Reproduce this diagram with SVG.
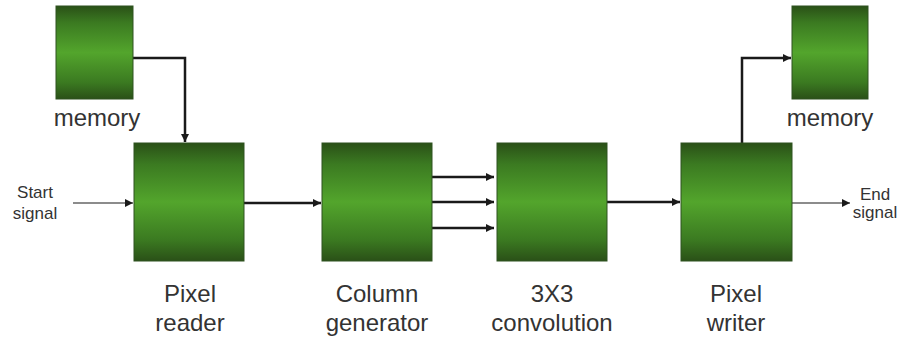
<svg xmlns="http://www.w3.org/2000/svg" width="903" height="341" viewBox="0 0 903 341">
<style>
.box{fill:url(#g);stroke:#2f5220;stroke-width:1}
.lbl{font-family:"Liberation Sans",Arial,sans-serif;font-size:24px;fill:#333;text-anchor:middle}
.sig{font-family:"Liberation Sans",Arial,sans-serif;font-size:17px;fill:#333;text-anchor:middle}
.thick{stroke:#1a1a1a;stroke-width:2.5;fill:none}
.thin{stroke:#1a1a1a;stroke-width:1.2;fill:none}
</style>
<defs>
<linearGradient id="g" x1="0" y1="0" x2="0" y2="1">
<stop offset="0" stop-color="#2a5017"/>
<stop offset="0.18" stop-color="#3b7a21"/>
<stop offset="0.5" stop-color="#53a52c"/>
<stop offset="0.82" stop-color="#3b7a21"/>
<stop offset="1" stop-color="#2a5017"/>
</linearGradient>
<marker id="a" viewBox="0 0 10 10" refX="10" refY="5" markerWidth="8" markerHeight="8" markerUnits="userSpaceOnUse" orient="auto">
<path d="M0,0 L10,5 L0,10 z" fill="#1a1a1a"/>
</marker>
</defs>
<rect width="903" height="341" fill="#fff"/>
<g id="connectors">
<path class="thick" d="M133,58 H185 V142" marker-end="url(#a)"/>
<path class="thin" d="M73,203 H133" marker-end="url(#a)"/>
<path class="thick" d="M244,203 H321" marker-end="url(#a)"/>
<path class="thick" d="M432,177 H494" marker-end="url(#a)"/>
<path class="thick" d="M432,202 H494" marker-end="url(#a)"/>
<path class="thick" d="M432,228 H494" marker-end="url(#a)"/>
<path class="thick" d="M607,202 H680" marker-end="url(#a)"/>
<path class="thick" d="M742,143 V58 H791" marker-end="url(#a)"/>
<path class="thin" d="M792,203 H850" marker-end="url(#a)"/>
</g>
<g id="memory-in">
<rect class="box" x="56" y="6" width="77" height="93"/>
<text class="lbl" x="97" y="126">memory</text>
</g>
<g id="start-signal">
<text class="sig" x="35" y="198">Start</text>
<text class="sig" x="35" y="219">signal</text>
</g>
<g id="pixel-reader">
<rect class="box" x="134" y="143" width="110" height="118"/>
<text class="lbl" x="190" y="302">Pixel</text>
<text class="lbl" x="190" y="331">reader</text>
</g>
<g id="column-generator">
<rect class="box" x="322" y="143" width="110" height="118"/>
<text class="lbl" x="377" y="302">Column</text>
<text class="lbl" x="377" y="331">generator</text>
</g>
<g id="convolution">
<rect class="box" x="497" y="143" width="110" height="118"/>
<text class="lbl" x="552" y="302">3X3</text>
<text class="lbl" x="552" y="331">convolution</text>
</g>
<g id="pixel-writer">
<rect class="box" x="681" y="143" width="111" height="118"/>
<text class="lbl" x="736" y="302">Pixel</text>
<text class="lbl" x="736" y="331">writer</text>
</g>
<g id="memory-out">
<rect class="box" x="792" y="6" width="76" height="93"/>
<text class="lbl" x="830" y="126">memory</text>
</g>
<g id="end-signal">
<text class="sig" x="875" y="200">End</text>
<text class="sig" x="875" y="218">signal</text>
</g>
</svg>
